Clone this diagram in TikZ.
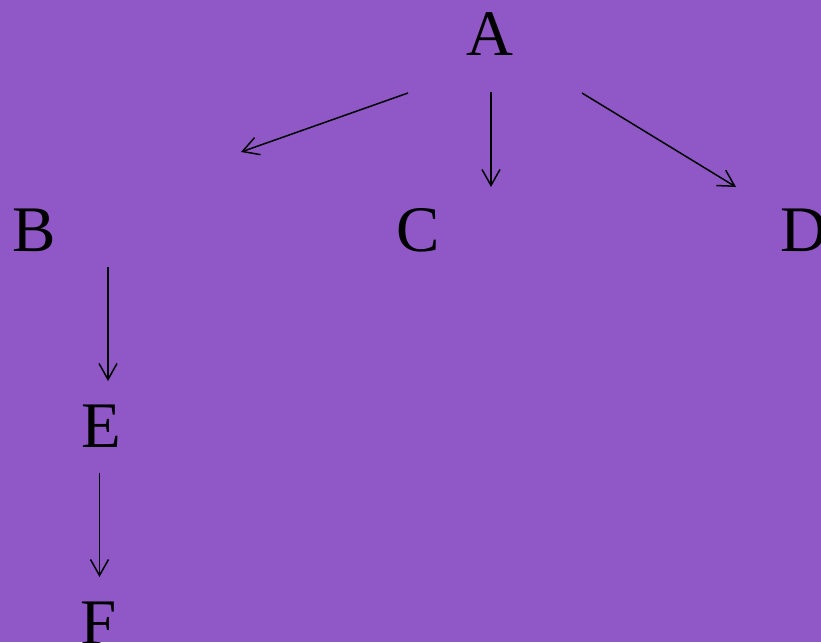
\documentclass[tikz,border=0pt]{standalone}
\usepackage{fontspec}
\setmainfont{Liberation Serif}
\usetikzlibrary{arrows.meta}
\definecolor{bgpurple}{RGB}{144,88,198}
\begin{document}
\begin{tikzpicture}[x=1pt,y=-1pt,
  lbl/.style={inner sep=0pt,font=\fontsize{65}{65}\selectfont,text=black},
  edge/.style={line width=1.5pt,-{Straight Barb[length=16pt,width=18pt,line width=1.5pt]}}]
\fill[bgpurple] (0,0) rectangle (821,642);
\useasboundingbox (0,0) rectangle (821,642);
\node[lbl,anchor=base] (A) at (490,56) {A};
\node[lbl,anchor=base] (B) at (34,251) {B};
\node[lbl,anchor=base] (C) at (418,251) {C};
\node[lbl,anchor=base west] (D) at (780,251) {D};
\node[lbl,anchor=base] (E) at (101,447) {E};
\node[lbl,anchor=base] (F) at (99,644) {F};
\coordinate (ab1) at (408,93);
\coordinate (ab2) at (241,152);
\coordinate (ac1) at (491,92);
\coordinate (ac2) at (491,187);
\coordinate (ad1) at (582,93);
\coordinate (ad2) at (736,187);
\coordinate (be1) at (108,267);
\coordinate (be2) at (108,381);
\coordinate (ef1) at (99.5,473);
\coordinate (ef2) at (99.5,577);
\draw[edge] (ab1) -- (ab2);
\draw[edge] (ac1) -- (ac2);
\draw[edge] (ad1) -- (ad2);
\draw[edge] (be1) -- (be2);
\draw[edge] (ef1) -- (ef2);
\end{tikzpicture}
\end{document}
